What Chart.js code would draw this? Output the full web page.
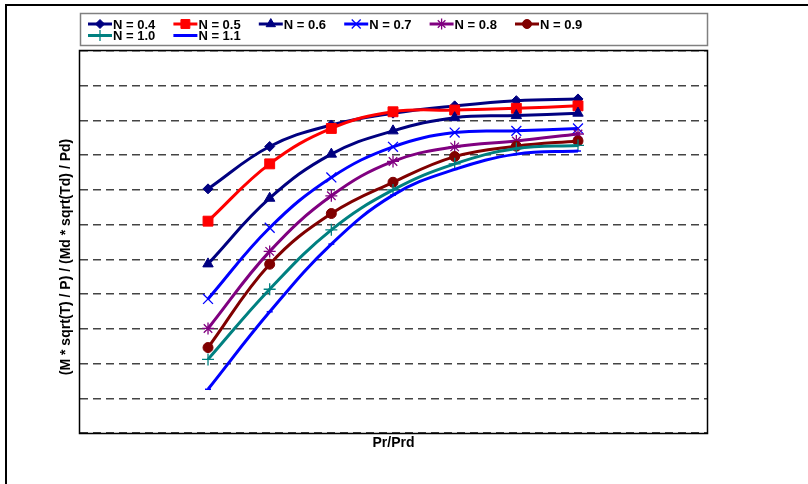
<!DOCTYPE html>
<html>
<head>
<meta charset="utf-8">
<script src="https://cdn.jsdelivr.net/npm/chart.js@4"></script>
<style>
  html, body { margin: 0; padding: 0; background: #fff; }
  canvas { display: block; }
</style>
</head>
<body>
<canvas id="flowChart" width="808" height="484"></canvas>
<script>
// pressure ratio points (no tick labels shown on the original)
const prRatio = [1, 2, 3, 4, 5, 6, 7];

const seriesLabels = ['N = 0.4', 'N = 0.5', 'N = 0.6', 'N = 0.7', 'N = 0.8', 'N = 0.9', 'N = 1.0', 'N = 1.1'];

const n04 = [0.703, 0.825, 0.887, 0.921, 0.942, 0.957, 0.962];
const n05 = [0.610, 0.775, 0.877, 0.925, 0.930, 0.935, 0.942];
const n06 = [0.487, 0.676, 0.803, 0.870, 0.908, 0.914, 0.921];
const n07 = [0.386, 0.591, 0.736, 0.824, 0.865, 0.870, 0.877];
const n08 = [0.301, 0.523, 0.683, 0.782, 0.824, 0.841, 0.861];
const n09 = [0.246, 0.486, 0.632, 0.722, 0.796, 0.826, 0.841];
const n10 = [0.212, 0.414, 0.585, 0.700, 0.775, 0.819, 0.828];
const n11 = [0.126, 0.349, 0.544, 0.685, 0.759, 0.803, 0.812];

const allSeries = [n04, n05, n06, n07, n08, n09, n10, n11];

const colors = ['#000080', '#FF0000', '#000080', '#0000FF', '#800080', '#800000', '#008080', '#0000FF'];
const markers = ['rectRot', 'rect', 'triangle', 'crossRot', 'star', 'circle', 'cross', 'line'];
const markerSize = [5, 7, 6, 7, 6, 5, 6, 3];
const markerLine = [1, 1, 1, 1.3, 1.3, 1, 1.3, 1.5];

const datasets = allSeries.map(function (vals, i) {
    return {
        label: seriesLabels[i],
        data: vals.map(function (v, j) { return { x: prRatio[j], y: v }; }),
        borderColor: colors[i],
        backgroundColor: colors[i],
        pointBackgroundColor: colors[i],
        pointBorderColor: colors[i],
        pointStyle: markers[i],
        pointRadius: markerSize[i],
        pointBorderWidth: markerLine[i],
        borderWidth: 3,
        tension: 0.4,
        fill: false,
        order: 8 - i
    };
});

const FONT = '"Liberation Sans", Arial, sans-serif';

const framePlugin = {
    id: 'framePlugin',
    beforeDraw(chart) {
        const ctx = chart.ctx;
        ctx.save();
        ctx.fillStyle = '#fff';
        ctx.fillRect(0, 0, chart.width, chart.height);
        ctx.restore();
    },
    afterDraw(chart) {
        const ctx = chart.ctx;
        const a = chart.chartArea;
        ctx.save();

        // outer frame (only top and left visible)
        ctx.fillStyle = '#000';
        ctx.fillRect(5, 4, chart.width - 5, 2);
        ctx.fillRect(5, 4, 2, chart.height - 4);

        // plot area border
        ctx.strokeStyle = '#000';
        ctx.lineWidth = 1.5;
        ctx.strokeRect(a.left - 0.5, a.top - 0.5, a.right - a.left + 1, a.bottom - a.top + 1);

        // legend box
        ctx.strokeStyle = '#808080';
        ctx.lineWidth = 1.5;
        ctx.strokeRect(80.5, 13.5, 627, 32);

        ctx.font = 'bold 13px ' + FONT;
        ctx.textBaseline = 'middle';
        ctx.textAlign = 'left';
        chart.data.datasets.forEach(function (ds, i) {
            const col = i % 6;
            const row = Math.floor(i / 6);
            const x0 = 88 + col * 85.4;
            const y = 24 + row * 11.5;
            ctx.strokeStyle = ds.borderColor;
            ctx.fillStyle = ds.borderColor;
            ctx.lineWidth = 3;
            ctx.beginPath();
            ctx.moveTo(x0, y);
            ctx.lineTo(x0 + 24, y);
            ctx.stroke();
            if (ds.pointStyle !== 'line') {
                ctx.lineWidth = ds.pointBorderWidth;
                Chart.helpers.drawPoint(ctx, {
                    pointStyle: ds.pointStyle,
                    radius: ds.pointRadius * 0.9,
                    rotation: 0,
                    borderWidth: ds.pointBorderWidth
                }, x0 + 12, y);
            }
            ctx.fillStyle = '#000';
            ctx.fillText(ds.label, x0 + 25, y + 1);
        });

        // axis titles
        ctx.fillStyle = '#000';
        ctx.font = 'bold 14px ' + FONT;
        ctx.textAlign = 'center';
        ctx.fillText('Pr/Prd', (a.left + a.right) / 2, 443);

        ctx.translate(66, 257);
        ctx.rotate(-Math.PI / 2);
        ctx.fillText('(M * sqrt(T) / P) / (Md * sqrt(Td) / Pd)', 0, 0);

        ctx.restore();
    }
};

new Chart(document.getElementById('flowChart'), {
    type: 'line',
    data: { datasets: datasets },
    options: {
        responsive: false,
        animation: false,
        devicePixelRatio: 1,
        layout: {
            padding: { left: 80, top: 51, right: 101, bottom: 51 }
        },
        plugins: {
            legend: { display: false },
            tooltip: { enabled: false }
        },
        scales: {
            x: {
                type: 'linear',
                min: -1.076,
                max: 9.092,
                ticks: { display: false },
                grid: { display: false, drawTicks: false },
                border: { display: false }
            },
            y: {
                type: 'linear',
                min: 0,
                max: 1.1,
                ticks: { display: false, stepSize: 0.1 },
                grid: { color: '#444444', lineWidth: 1.4, drawTicks: false },
                border: { display: false, dash: [8, 5] }
            }
        }
    },
    plugins: [framePlugin]
});
</script>
</body>
</html>
